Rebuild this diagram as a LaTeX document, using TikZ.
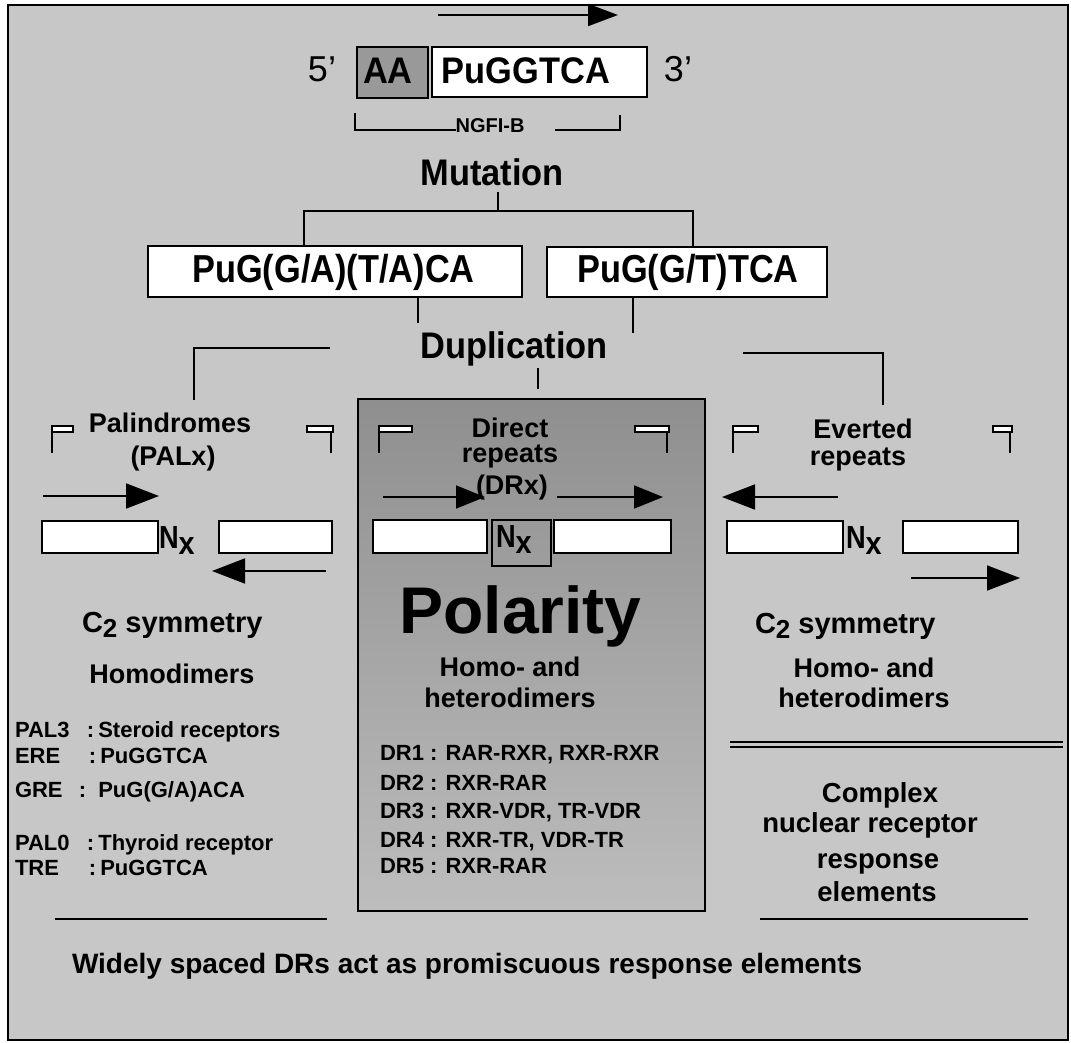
\documentclass[tikz,border=0pt]{standalone}
\usepackage{fontspec}
\setmainfont{Liberation Sans}
\usetikzlibrary{arrows.meta,shadings}
\newcommand\fsz[1]{\fontsize{#1}{#1}\selectfont}
\newcommand\sqz[2]{\scalebox{#1}[1]{#2}}
\definecolor{bggray}{gray}{0.78}
\definecolor{panelTop}{gray}{0.56}
\definecolor{panelBot}{gray}{0.74}
\definecolor{aagray}{gray}{0.6}
\begin{document}
\begin{tikzpicture}[x=1pt,y=-1pt,
  every node/.style={inner sep=0pt, outer sep=0pt, font=\bfseries},
  txt/.style={anchor=base},
  txtl/.style={anchor=base west},
  frameln/.style={line width=2pt},
  conn/.style={line width=1.6pt},
  seqbox/.style={draw, fill=white, line width=2.5pt},
  flagln/.style={line width=1.8pt},
  flagbar/.style={draw, fill=white, line width=1.1pt},
  arrbig/.style={line width=1.8pt, -{Triangle[length=33pt,width=25pt]}},
  arrmid/.style={line width=1.8pt, -{Triangle[length=29pt,width=23pt]}},
  sepln/.style={line width=1.6pt}
]
\useasboundingbox (0,0) rectangle (1071,1042);
\fill[white] (0,0) rectangle (1071,1042);
\draw[frameln, fill=bggray] (8,5) rectangle (1068,1040);

% ---------- top sequence ----------
\coordinate (ta0) at (438,15);
\coordinate (ta1) at (618,15);
\draw[line width=2pt, -{Triangle[length=30pt,width=22pt]}] (ta0) -- (ta1);

\node[txt, font=\mdseries\fsz{36}] (p5) at (322,81) {5’};
\node[draw, fill=aagray, line width=2.5pt, minimum width=71, minimum height=51] (aabox) at (392.5,72.5) {};
\node[txt, font=\bfseries\fsz{37}] (aat) at (388,83) {\sqz{0.93}{AA}};
\node[seqbox, minimum width=215, minimum height=50] (pubox) at (539.5,72) {};
\node[txt, font=\bfseries\fsz{37}] (put) at (526,83) {\sqz{0.93}{PuGGTCA}};
\node[txt, font=\mdseries\fsz{36}] (p3) at (678,81) {3’};

% NGFI-B bracket
\node[txt, font=\bfseries\fsz{20}] (ngfi) at (490,132) {NGFI-B};
\coordinate (ng1) at (355,113);
\coordinate (ng2) at (355,130);
\coordinate (ng3) at (555,130);
\coordinate (ng4) at (620,130);
\coordinate (ng5) at (620,115);
\draw[conn] (ng1) -- (ng2) -- (ngfi.west |- ng2);
\draw[conn] (ng3) -- (ng4) -- (ng5);

% ---------- mutation ----------
\node[txt, font=\bfseries\fsz{37}] (mut) at (492,185) {\sqz{0.93}{Mutation}};
\coordinate (m0) at (498,192);
\coordinate (m1) at (498,211);
\coordinate (mL) at (304,211);
\coordinate (mR) at (693,211);
\node[seqbox, minimum width=374, minimum height=51] (ba) at (335,271.5) {};
\node[txt, font=\bfseries\fsz{39}] (bat) at (333.5,282) {\sqz{0.88}{PuG(G/A)(T/A)CA}};
\node[seqbox, minimum width=280, minimum height=50] (bb) at (687,272) {};
\node[txt, font=\bfseries\fsz{39}] (bbt) at (688,282) {\sqz{0.88}{PuG(G/T)TCA}};
\draw[conn] (m0) -- (m1);
\draw[conn] (mL |- ba.north) -- (mL) -- (mR) -- (mR |- bb.north);

% ---------- duplication ----------
\node[txt, font=\bfseries\fsz{37}] (dup) at (514,358) {\sqz{0.93}{Duplication}};
\coordinate (d1) at (418,323);
\coordinate (d2) at (633,333);
\draw[conn] (d1 |- ba.south) -- (d1);
\draw[conn] (d2 |- bb.south) -- (d2);
\coordinate (bl1) at (330,348);
\coordinate (bl2) at (194,348);
\coordinate (bl3) at (194,400);
\draw[conn] (bl1) -- (bl2) -- (bl3);
\coordinate (br1) at (743,353);
\coordinate (br2) at (883,353);
\coordinate (br3) at (883,405);
\draw[conn] (br1) -- (br2) -- (br3);
\coordinate (dm1) at (538,368);
\coordinate (dm2) at (538,389);
\draw[conn] (dm1) -- (dm2);

% ---------- middle panel ----------
\node[draw, line width=2pt, minimum width=347, minimum height=512,
      top color=panelTop, bottom color=panelBot] (drp) at (531.5,655) {};

% ---------- flags ----------
\draw[flagln] (52,453) -- (52,426);
\draw[flagbar] (52,426) rectangle (73,432);
\draw[flagln] (331,453) -- (331,426);
\draw[flagbar] (307,426) rectangle (333,432);
\draw[flagln] (379,453) -- (379,426);
\draw[flagbar] (379,426) rectangle (412,432);
\draw[flagln] (667,453) -- (667,426);
\draw[flagbar] (635,426) rectangle (669,432);
\draw[flagln] (733,453) -- (733,426);
\draw[flagbar] (733,426) rectangle (758,432);
\draw[flagln] (1010,453) -- (1010,426);
\draw[flagbar] (993,426) rectangle (1012,432);

% ---------- palindromes ----------
\node[txt, font=\bfseries\fsz{27}] (pal) at (170,432) {Palindromes};
\node[txt, font=\bfseries\fsz{27}] (palx) at (173,465) {(PALx)};
\coordinate (pa0) at (43,496);
\coordinate (pa1) at (159,496);
\draw[arrbig] (pa0) -- (pa1);
\node[seqbox, minimum width=116, minimum height=32] (pl1) at (100,537) {};
\node[seqbox, minimum width=113, minimum height=32] (pl2) at (275.5,537) {};
\node[txtl, font=\bfseries\fsz{32}] (pln) at (159,548) {\sqz{0.85}{N}\raisebox{-6pt}{\sqz{0.9}{x}}};
\coordinate (pb0) at (326,571);
\coordinate (pb1) at (212,571);
\draw[arrbig] (pb0) -- (pb1);
\node[txtl, font=\bfseries\fsz{29}] (plc) at (82,632) {C\raisebox{-5pt}{\fsz{26}2} symmetry};
\node[txt, font=\bfseries\fsz{27}] (plh) at (172,683) {Homodimers};
\node[txtl, font=\bfseries\fsz{22}] (l1) at (15,737) {\makebox[72pt][l]{PAL3}:\hspace{4pt}Steroid receptors};
\node[txtl, font=\bfseries\fsz{22}] (l2) at (15,763) {\makebox[74pt][l]{ERE}:\hspace{4pt}PuGGTCA};
\node[txtl, font=\bfseries\fsz{22}] (l3) at (15,797) {\makebox[64pt][l]{GRE}:\hspace{12pt}PuG(G/A)ACA};
\node[txtl, font=\bfseries\fsz{22}] (l4) at (15,850) {\makebox[72pt][l]{PAL0}:\hspace{4pt}Thyroid receptor};
\node[txtl, font=\bfseries\fsz{22}] (l5) at (15,875) {\makebox[74pt][l]{TRE}:\hspace{4pt}PuGGTCA};

% ---------- direct repeats ----------
\node[txt, font=\bfseries\fsz{27}] (dr1t) at (510,437) {Direct};
\node[txt, font=\bfseries\fsz{27}] (dr2t) at (510,462) {repeats};
\node[txt, font=\bfseries\fsz{27}] (dr3t) at (512,494) {(DRx)};
\coordinate (da0) at (383,497);
\coordinate (da1) at (485,497);
\coordinate (db0) at (557,497);
\coordinate (db1) at (663,497);
\draw[arrmid] (da0) -- (da1);
\draw[arrmid] (db0) -- (db1);
\node[seqbox, minimum width=114, minimum height=33] (dbx1) at (430,536.5) {};
\node[seqbox, minimum width=117, minimum height=33] (dbx2) at (612.5,536.5) {};
\node[draw, line width=1.2pt, minimum width=59, minimum height=46] (dnx) at (521.5,543) {};
\node[txtl, font=\bfseries\fsz{32}] (dnt) at (496,547) {\sqz{0.85}{N}\raisebox{-6pt}{\sqz{0.9}{x}}};
\node[txt, font=\bfseries\fsz{66}] (polar) at (520.5,633) {Polarity};
\node[txt, font=\bfseries\fsz{27}] (dh1) at (510,676) {Homo- and};
\node[txt, font=\bfseries\fsz{27}] (dh2) at (510,707) {heterodimers};
\node[txtl, font=\bfseries\fsz{22}] (r1) at (380,760) {DR1 : RAR-RXR, RXR-RXR};
\node[txtl, font=\bfseries\fsz{22}] (r2) at (380,790) {DR2 : RXR-RAR};
\node[txtl, font=\bfseries\fsz{22}] (r3) at (380,818) {DR3 : RXR-VDR, TR-VDR};
\node[txtl, font=\bfseries\fsz{22}] (r4) at (380,847) {DR4 : RXR-TR, VDR-TR};
\node[txtl, font=\bfseries\fsz{22}] (r5) at (380,873) {DR5 : RXR-RAR};

% ---------- everted repeats ----------
\node[txt, font=\bfseries\fsz{27}] (ev1) at (863,438) {Everted};
\node[txt, font=\bfseries\fsz{27}] (ev2) at (858,465) {repeats};
\coordinate (ea0) at (838,497);
\coordinate (ea1) at (722,497);
\draw[arrbig] (ea0) -- (ea1);
\node[seqbox, minimum width=116, minimum height=32] (eb1) at (785,537) {};
\node[seqbox, minimum width=115, minimum height=32] (eb2) at (960.5,537) {};
\node[txtl, font=\bfseries\fsz{32}] (ent) at (846,548) {\sqz{0.85}{N}\raisebox{-6pt}{\sqz{0.9}{x}}};
\coordinate (eb0) at (911,578);
\coordinate (ebt) at (1020,578);
\draw[arrbig] (eb0) -- (ebt);
\node[txtl, font=\bfseries\fsz{29}] (erc) at (755,633) {C\raisebox{-5pt}{\fsz{26}2} symmetry};
\node[txt, font=\bfseries\fsz{27}] (eh1) at (864,677) {Homo- and};
\node[txt, font=\bfseries\fsz{27}] (eh2) at (864,707) {heterodimers};

\coordinate (dl1) at (730,742);
\coordinate (dl2) at (1063,742);
\coordinate (dl3) at (730,747);
\coordinate (dl4) at (1063,747);
\draw[line width=1.8pt] (dl1) -- (dl2);
\draw[line width=1.8pt] (dl3) -- (dl4);

\node[txt, font=\bfseries\fsz{27.5}] (cx1) at (880,802) {Complex};
\node[txt, font=\bfseries\fsz{27.5}] (cx2) at (870,832) {nuclear receptor};
\node[txt, font=\bfseries\fsz{27.5}] (cx3) at (878,868) {response};
\node[txt, font=\bfseries\fsz{27.5}] (cx4) at (877,901) {elements};

% ---------- bottom ----------
\coordinate (sl1) at (55,919);
\coordinate (sl2) at (327,919);
\coordinate (sr1) at (760,919);
\coordinate (sr2) at (1028,919);
\draw[sepln] (sl1) -- (sl2);
\draw[sepln] (sr1) -- (sr2);
\node[txtl, font=\bfseries\fsz{28}] (wide) at (72,973) {Widely spaced DRs act as promiscuous response elements};
\end{tikzpicture}
\end{document}
